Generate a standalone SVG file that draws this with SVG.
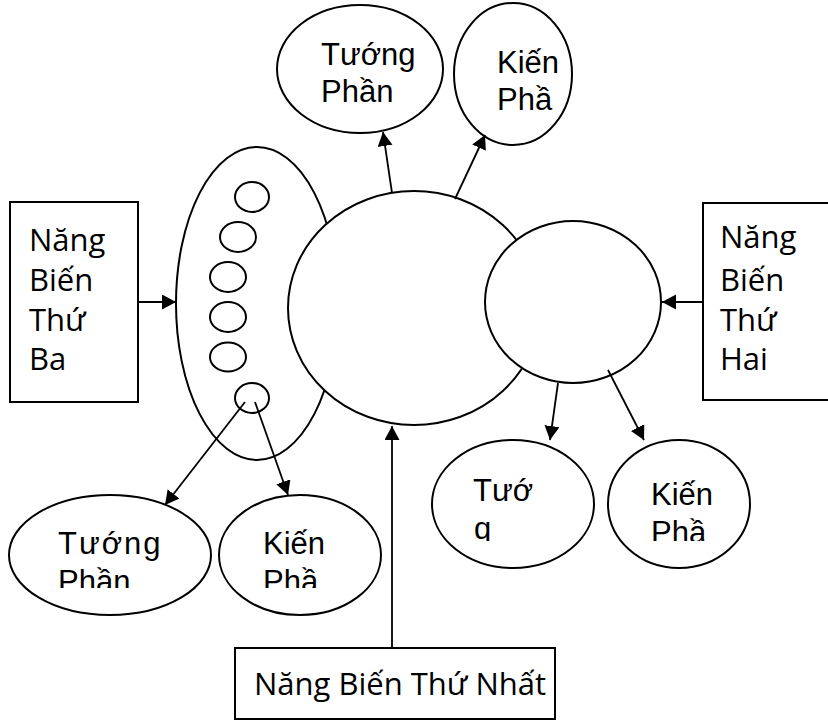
<svg xmlns="http://www.w3.org/2000/svg" width="828" height="721" viewBox="0 0 828 721">
  <style>
    .shape { fill: #ffffff; stroke: #000000; stroke-width: 2; }
    .link { fill: none; stroke: #000000; stroke-width: 1.8; }
    .box-text { font-family: "Open Sans", "Noto Sans", sans-serif; font-size: 31px; fill: #000000; }
    .oval-text { font-family: "Liberation Sans", Arial, sans-serif; font-size: 31px; fill: #000000; }
  </style>
  <defs>
    <marker id="arrow" markerUnits="userSpaceOnUse" markerWidth="16" markerHeight="16" refX="14" refY="7.5" orient="auto">
      <path d="M0,0 L14,7.5 L0,15 z" fill="#000000"/>
    </marker>
    <clipPath id="clip-low-left"><rect x="0" y="480" width="400" height="108"/></clipPath>
    <clipPath id="clip-low-right"><rect x="420" y="430" width="340" height="111"/></clipPath>
  </defs>

  <!-- outer left ellipse holding the small ovals -->
  <g id="cluster">
    <ellipse class="shape" cx="257" cy="303.5" rx="81" ry="156.5"/>
    <ellipse class="shape" cx="252" cy="197" rx="17" ry="15"/>
    <ellipse class="shape" cx="238" cy="237" rx="18" ry="15"/>
    <ellipse class="shape" cx="228" cy="277" rx="18" ry="15"/>
    <ellipse class="shape" cx="228" cy="317" rx="18" ry="15"/>
    <ellipse class="shape" cx="228" cy="357" rx="18" ry="14.5"/>
    <ellipse class="shape" cx="252" cy="398" rx="17" ry="15"/>
  </g>

  <!-- central circle -->
  <g id="center">
    <ellipse class="shape" cx="414" cy="308" rx="126" ry="117"/>
  </g>

  <!-- right circle -->
  <g id="right-circle">
    <ellipse class="shape" cx="573" cy="302" rx="88" ry="81"/>
  </g>

  <!-- top outcomes -->
  <g id="top-tuong">
    <ellipse class="shape" cx="360" cy="69" rx="83" ry="64"/>
    <text class="oval-text" x="321" y="65">Tướng</text>
    <text class="oval-text" x="321" y="102">Phần</text>
  </g>
  <g id="top-kien">
    <ellipse class="shape" cx="513" cy="74" rx="59" ry="71"/>
    <text class="oval-text" x="497" y="73">Kiến</text>
    <text class="oval-text" x="497" y="110">Phầ</text>
  </g>

  <!-- lower-left outcomes -->
  <g id="low-left-tuong">
    <ellipse class="shape" cx="110" cy="555" rx="101" ry="60"/>
    <g clip-path="url(#clip-low-left)">
      <text class="oval-text" x="58" y="554" letter-spacing="2">Tướng</text>
      <text class="oval-text" x="58" y="592">Phần</text>
    </g>
  </g>
  <g id="low-left-kien">
    <ellipse class="shape" cx="300" cy="555" rx="81" ry="60"/>
    <g clip-path="url(#clip-low-left)">
      <text class="oval-text" x="263" y="554">Kiến</text>
      <text class="oval-text" x="263" y="592">Phầ</text>
    </g>
  </g>

  <!-- lower-right outcomes -->
  <g id="low-right-tuong">
    <ellipse class="shape" cx="513" cy="504" rx="81" ry="64"/>
    <g clip-path="url(#clip-low-right)">
      <text class="oval-text" x="473" y="501">Tướ</text>
      <text class="oval-text" x="474" y="539">q</text>
    </g>
  </g>
  <g id="low-right-kien">
    <ellipse class="shape" cx="679" cy="504" rx="71" ry="64"/>
    <g clip-path="url(#clip-low-right)">
      <text class="oval-text" x="651" y="505">Kiến</text>
      <text class="oval-text" x="651" y="543">Phầ</text>
    </g>
  </g>

  <!-- source boxes -->
  <g id="box-third">
    <rect class="shape" x="10" y="202" width="128" height="200"/>
    <text class="box-text" x="29" y="251">Năng</text>
    <text class="box-text" x="29" y="291">Biến</text>
    <text class="box-text" x="29" y="331">Thứ</text>
    <text class="box-text" x="29" y="370">Ba</text>
  </g>
  <g id="box-second">
    <rect class="shape" x="703" y="203" width="200" height="197"/>
    <text class="box-text" x="720" y="248">Năng</text>
    <text class="box-text" x="720" y="291">Biến</text>
    <text class="box-text" x="720" y="331">Thứ</text>
    <text class="box-text" x="720" y="370">Hai</text>
  </g>
  <g id="box-first">
    <rect class="shape" x="235" y="648" width="320" height="71"/>
    <text class="box-text" x="254" y="695">Năng Biến Thứ Nhất</text>
  </g>

  <!-- connectors -->
  <g id="connectors">
    <line class="link" x1="392" y1="193" x2="383" y2="132" marker-end="url(#arrow)"/>
    <line class="link" x1="455" y1="199" x2="485" y2="135" marker-end="url(#arrow)"/>
    <line class="link" x1="138" y1="302" x2="176" y2="302" marker-end="url(#arrow)"/>
    <line class="link" x1="703" y1="302" x2="662" y2="302" marker-end="url(#arrow)"/>
    <line class="link" x1="392" y1="648" x2="392" y2="426" marker-end="url(#arrow)"/>
    <line class="link" x1="245" y1="402" x2="165" y2="505" marker-end="url(#arrow)"/>
    <line class="link" x1="255" y1="402" x2="288" y2="495" marker-end="url(#arrow)"/>
    <line class="link" x1="558" y1="383" x2="550" y2="440" marker-end="url(#arrow)"/>
    <line class="link" x1="608" y1="370" x2="644" y2="440" marker-end="url(#arrow)"/>
  </g>
</svg>
